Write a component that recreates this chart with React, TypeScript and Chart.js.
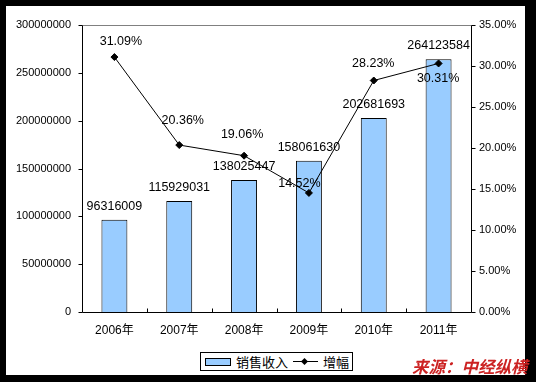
import React, { useEffect, useRef } from "react";
import { Chart, registerables } from "chart.js";

Chart.register(...registerables);

const categories = ["2006年", "2007年", "2008年", "2009年", "2010年", "2011年"];
const salesRevenue = [96316009, 115929031, 138025447, 158061630, 202681693, 264123584];
const growthPct = [31.09, 20.36, 19.06, 14.52, 28.23, 30.31];
const leftAxisMax = 300000000;
const leftAxisStep = 50000000;
const rightAxisMax = 35;
const rightAxisStep = 5;

const seriesNames = ["销售收入", "增幅"];

// label nudges (dx, dy) relative to each line point, as placed in the reference
const pctLabelNudges: [number, number][] = [
  [6.5, -15.5],
  [3.5, -25],
  [-2, -21],
  [-9.5, -9.5],
  [-0.5, -16.5],
  [-0.5, 15],
];

const FONT = "'Liberation Sans', Arial, 'Noto Sans CJK SC', sans-serif";

const excelPlugin = {
  id: "excelLook",
  afterDraw(chart: any) {
    const { ctx, chartArea } = chart;
    const { left, right, top, bottom } = chartArea;
    const L = Math.round(left) + 0.5;
    const R = Math.round(right) + 0.5;
    const T = Math.round(top) + 0.5;
    const B = Math.round(bottom) + 0.5;
    ctx.save();
    ctx.lineWidth = 1;
    ctx.strokeStyle = "#808080";
    ctx.beginPath();
    ctx.moveTo(L, T);
    ctx.lineTo(R, T);
    ctx.stroke();

    ctx.strokeStyle = "#000";
    ctx.beginPath();
    ctx.moveTo(L, T);
    ctx.lineTo(L, B);
    ctx.lineTo(R, B);
    ctx.moveTo(R, T);
    ctx.lineTo(R, B);
    const ys = chart.scales.y;
    ys.ticks.forEach((t: any) => {
      const y = Math.round(ys.getPixelForValue(t.value)) + 0.5;
      ctx.moveTo(L - 4, y);
      ctx.lineTo(L, y);
    });
    const y1 = chart.scales.y1;
    y1.ticks.forEach((t: any) => {
      const y = Math.round(y1.getPixelForValue(t.value)) + 0.5;
      ctx.moveTo(R, y);
      ctx.lineTo(R + 4, y);
    });
    const n = categories.length;
    for (let i = 1; i < n; i++) {
      const x = Math.round(left + (i * (right - left)) / n) + 0.5;
      ctx.moveTo(x, B - 4);
      ctx.lineTo(x, B);
    }
    ctx.stroke();

    // data labels
    ctx.fillStyle = "#000";
    ctx.font = `12.5px ${FONT}`;
    ctx.textAlign = "center";
    ctx.textBaseline = "middle";
    const barMeta = chart.getDatasetMeta(0);
    barMeta.data.forEach((el: any, i: number) => {
      ctx.fillText(String(salesRevenue[i]), el.x, el.y - 13.5);
    });
    const lineMeta = chart.getDatasetMeta(1);
    lineMeta.data.forEach((el: any, i: number) => {
      const [dx, dy] = pctLabelNudges[i];
      ctx.fillText(growthPct[i].toFixed(2) + "%", el.x + dx, el.y + dy);
    });
    ctx.restore();
  },
};

export default function App() {
  const ref = useRef<HTMLCanvasElement>(null);

  useEffect(() => {
    if (!ref.current) return;
    const chart = new Chart(ref.current, {
      type: "bar",
      data: {
        labels: categories,
        datasets: [
          {
            type: "bar",
            label: seriesNames[0],
            data: salesRevenue,
            backgroundColor: "#99CCFF",
            borderColor: "#000",
            borderWidth: 1,
            barPercentage: 0.4,
            categoryPercentage: 1,
            yAxisID: "y",
            order: 1,
          },
          {
            type: "line",
            label: seriesNames[1],
            data: growthPct,
            borderColor: "#000",
            borderWidth: 1,
            backgroundColor: "#000",
            pointStyle: "rectRot",
            pointRadius: 3.5,
            pointBackgroundColor: "#000",
            pointBorderColor: "#000",
            tension: 0,
            yAxisID: "y1",
            order: 0,
          },
        ],
      },
      options: {
        responsive: false,
        animation: false,
        devicePixelRatio: 1,
        layout: { padding: { top: 25, left: 0, right: 0, bottom: 0 } },
        plugins: {
          legend: { display: false },
          tooltip: { enabled: false },
        },
        scales: {
          x: {
            grid: { display: false, drawTicks: false },
            border: { display: false },
            ticks: {
              color: "#000",
              padding: 11,
              font: { family: FONT, size: 12 },
              maxRotation: 0,
            },
            afterFit(scale: any) {
              scale.height = 70;
            },
          },
          y: {
            position: "left",
            min: 0,
            max: leftAxisMax,
            grid: { display: false, drawTicks: false },
            border: { display: false },
            ticks: {
              stepSize: leftAxisStep,
              color: "#000",
              padding: 11,
              font: { family: FONT, size: 11 },
              callback: (v: any) => String(v),
            },
            afterFit(scale: any) {
              scale.width = 82;
            },
          },
          y1: {
            position: "right",
            min: 0,
            max: rightAxisMax,
            grid: { display: false, drawTicks: false },
            border: { display: false },
            ticks: {
              stepSize: rightAxisStep,
              color: "#000",
              padding: 8,
              font: { family: FONT, size: 11 },
              callback: (v: any) => Number(v).toFixed(2) + "%",
            },
            afterFit(scale: any) {
              scale.width = 65;
            },
          },
        },
      },
      plugins: [excelPlugin],
    } as any);
    return () => chart.destroy();
  }, []);

  return (
    <div
      style={{
        position: "fixed",
        left: 0,
        top: 0,
        width: 536,
        height: 382,
        background: "#000",
        overflow: "hidden",
      }}
    >
      <div
        style={{
          position: "absolute",
          left: 6,
          top: 6,
          width: 519,
          height: 369,
          background: "#fff",
        }}
      />
      <canvas
        ref={ref}
        width={536}
        height={382}
        style={{ position: "absolute", left: 0, top: 0, width: 536, height: 382 }}
      />
      <div
        style={{
          position: "absolute",
          left: 200,
          top: 352,
          width: 151,
          height: 17,
          border: "1px solid #000",
          background: "#fff",
          fontFamily: "'Noto Sans CJK SC', sans-serif",
          fontSize: 13,
          lineHeight: "17px",
          color: "#000",
        }}
      >
        <span
          style={{
            position: "absolute",
            left: 4,
            top: 5,
            width: 24,
            height: 6,
            background: "#99CCFF",
            border: "1px solid #000",
          }}
        />
        <span style={{ position: "absolute", left: 35, top: 0, whiteSpace: "nowrap" }}>
          {seriesNames[0]}
        </span>
        <span
          style={{
            position: "absolute",
            left: 92,
            top: 8,
            width: 25,
            height: 1,
            background: "#000",
          }}
        />
        <span
          style={{
            position: "absolute",
            left: 101,
            top: 6,
            width: 5,
            height: 5,
            background: "#000",
            transform: "rotate(45deg)",
          }}
        />
        <span style={{ position: "absolute", left: 122, top: 0, whiteSpace: "nowrap" }}>
          {seriesNames[1]}
        </span>
      </div>
      <div
        style={{
          position: "absolute",
          left: 412,
          top: 356,
          fontFamily: "'Noto Sans CJK SC', sans-serif",
          fontWeight: 700,
          fontStyle: "italic",
          fontSize: 16.5,
          lineHeight: "20px",
          color: "#CC2222",
          whiteSpace: "nowrap",
        }}
      >
        来源：中经纵横
      </div>
    </div>
  );
}
